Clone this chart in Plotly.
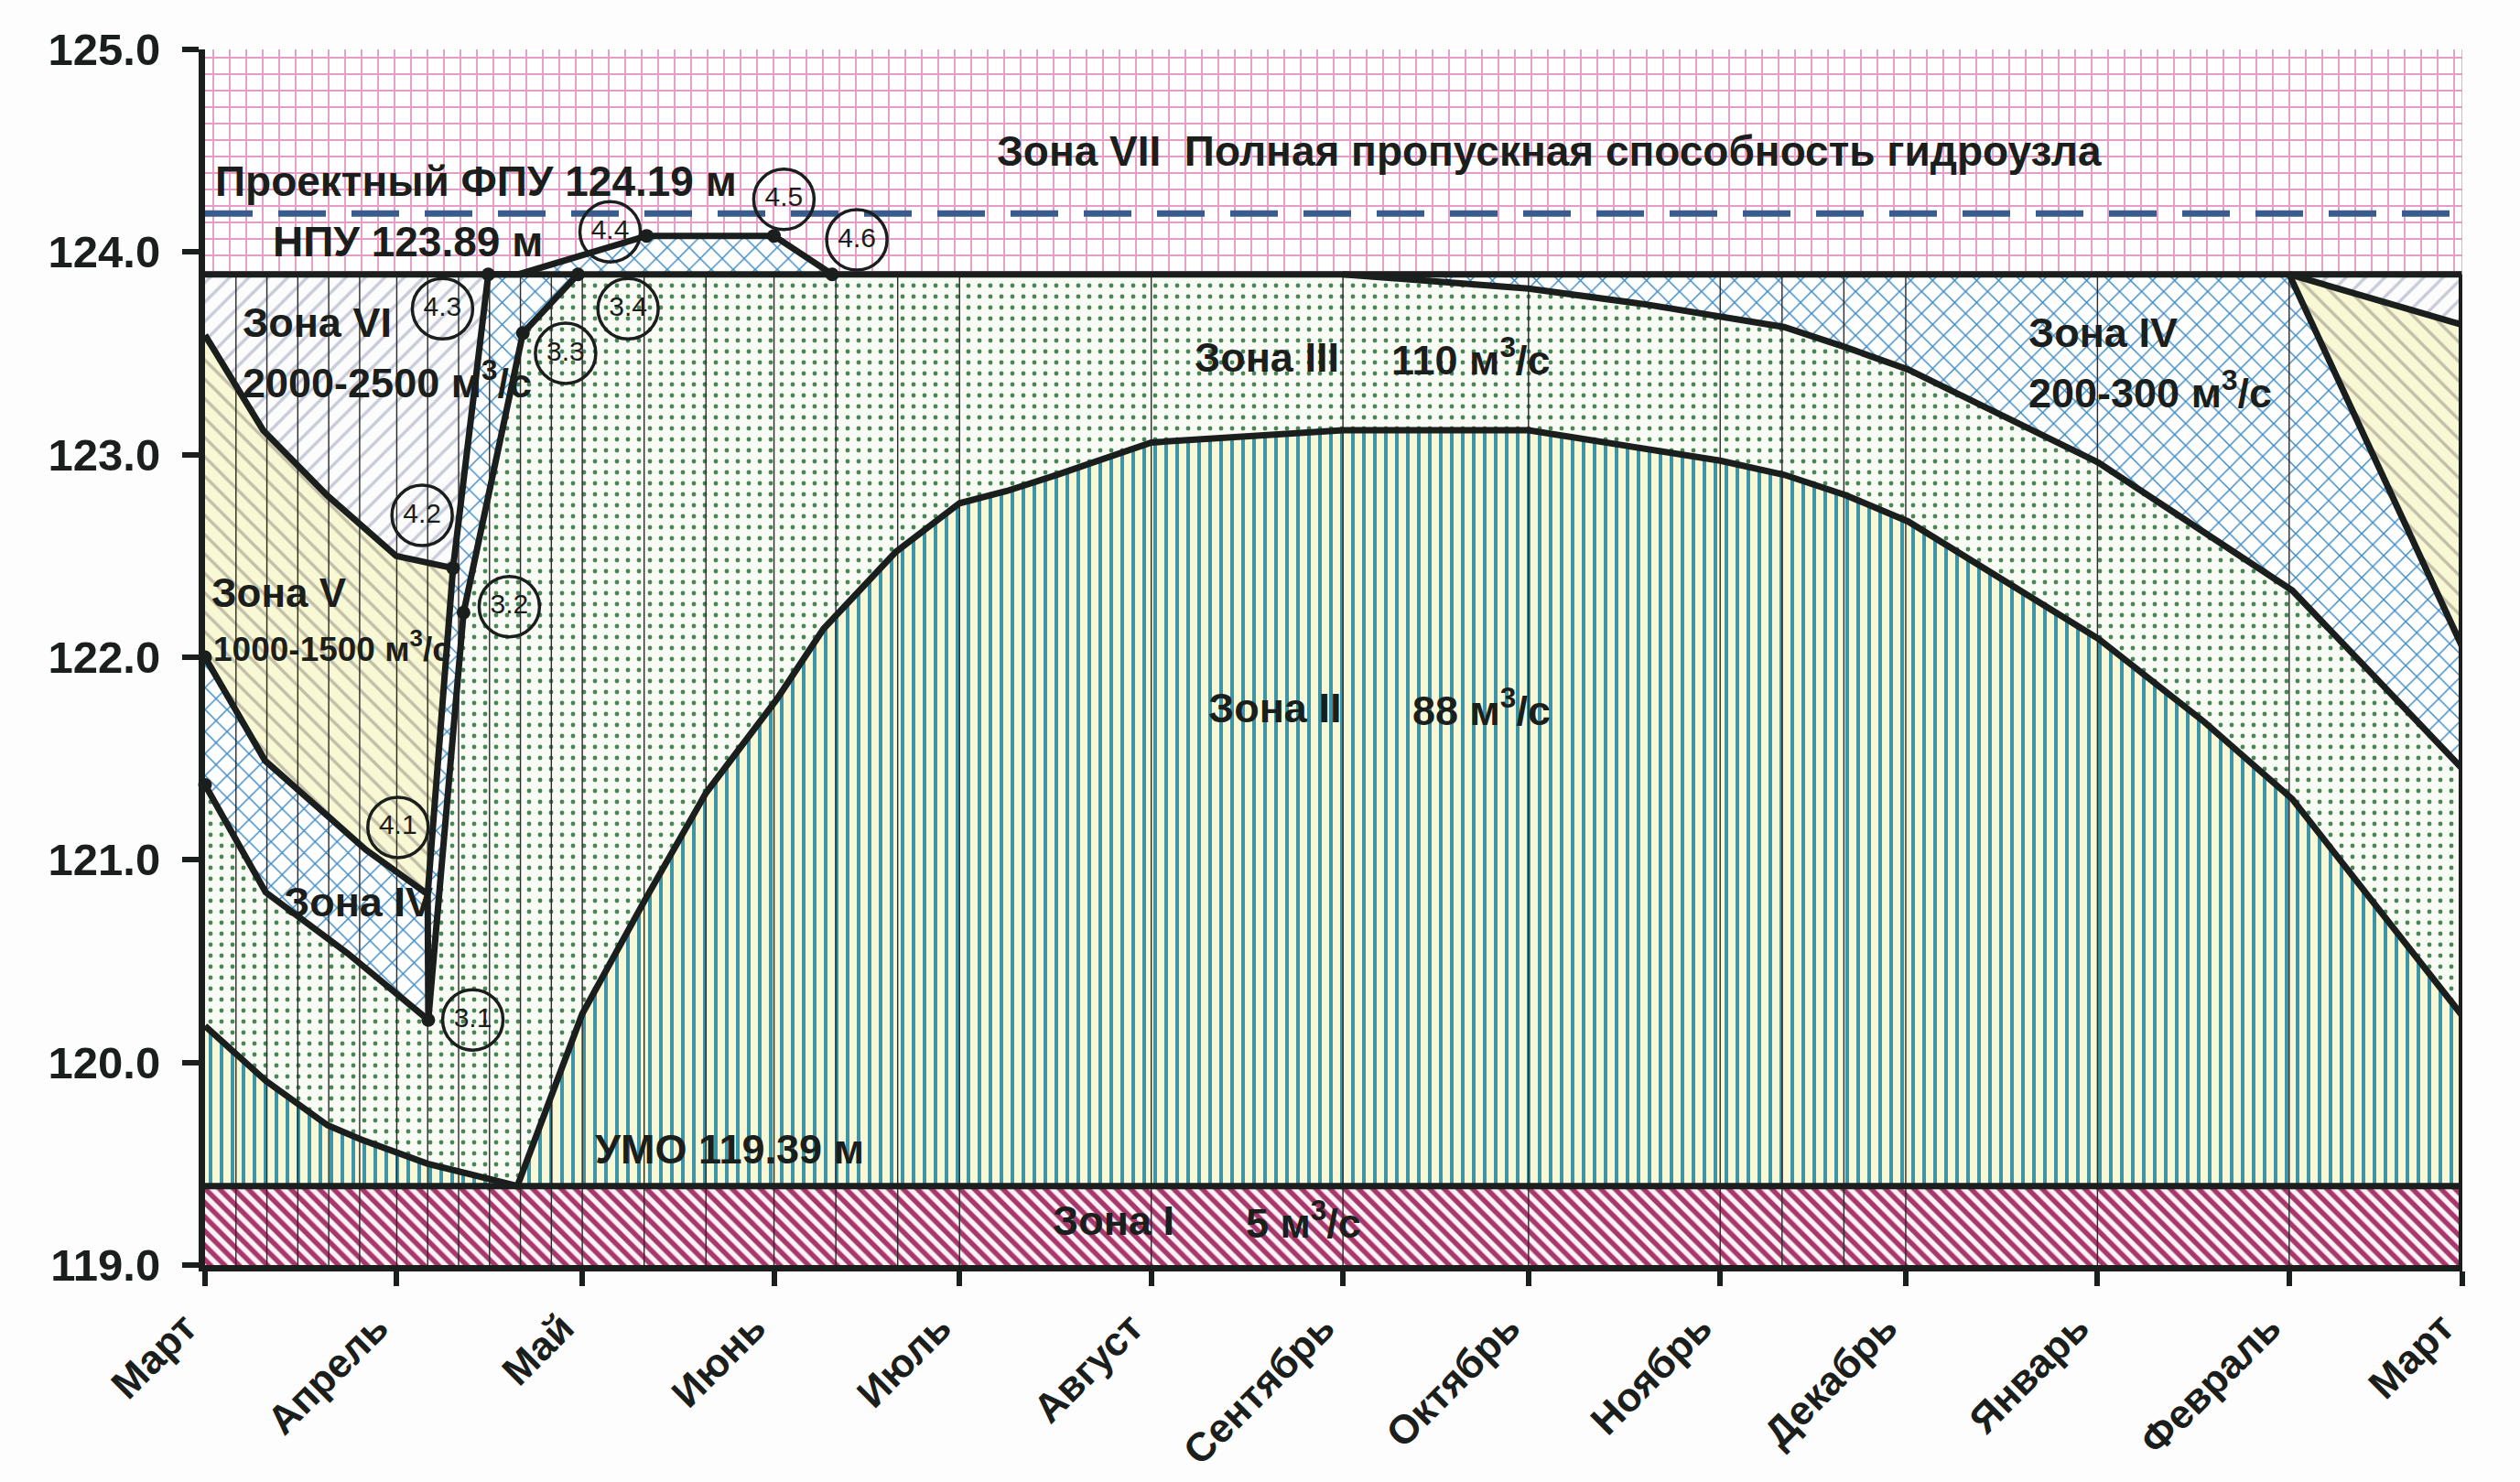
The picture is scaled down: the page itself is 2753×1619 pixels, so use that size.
import plotly.graph_objects as go

# ---------------- data ----------------
MONTH_LABELS = ["Март", "Апрель", "Май", "Июнь", "Июль", "Август", "Сентябрь",
                "Октябрь", "Ноябрь", "Декабрь", "Январь", "Февраль", "Март"]
MONTH_DAYS = [0, 31, 61, 92, 122, 153, 184, 214, 245, 275, 306, 337, 365]
GRID_DAYS = [5, 10, 15, 20, 25, 31, 36, 41, 46, 51, 56, 61, 71, 81, 92, 102, 112,
             122, 153, 184, 214, 245, 255, 265, 275, 306, 337]
Y_TICKS = [119.0, 120.0, 121.0, 122.0, 123.0, 124.0, 125.0]

Y_MIN, Y_MAX = 119.0, 125.0
NPU = 123.89
FPU = 124.19
UMO = 119.39

# Zone II upper boundary
Z2_DAYS = [0, 9.8, 19.8, 25.2, 36, 45.2, 48.5, 50.5, 61, 71.1, 81, 92.4, 100, 111.7,
           122, 129.6, 137.7, 153, 184, 214, 245, 255.4, 265.3, 275.4, 306.2, 323.3,
           337.5, 365]
Z2_LEVELS = [120.18, 119.91, 119.69, 119.62, 119.50, 119.43, 119.40, 119.39, 120.24,
             120.80, 121.33, 121.79, 122.14, 122.52, 122.76, 122.82, 122.90, 123.06,
             123.12, 123.12, 122.97, 122.90, 122.80, 122.67, 122.09, 121.68, 121.30,
             120.23]

# line 3.x (zone III / zone IV boundary in spring)
L3_DAYS = [0, 9.8, 23, 36.1, 41.8, 51.4, 60.3]
L3_LEVELS = [121.37, 120.84, 120.54, 120.21, 122.22, 123.60, 123.89]

# line 4.x (zone IV / zones V, VI, VII boundary in spring)
L4_DAYS = [0, 9.7, 26, 36.0, 40.1, 45.8, 50.7, 71.4, 92, 101.4]
L4_LEVELS = [122.0, 121.49, 121.05, 120.83, 122.44, 123.89, 123.89, 124.08, 124.08, 123.89]

# zone V / zone VI boundary in spring
VIV_DAYS = [0, 9.4, 19.7, 30.9, 40.1]
VIV_LEVELS = [123.59, 123.12, 122.80, 122.50, 122.44]

# zone III / zone IV boundary, autumn-winter
IIIIV_DAYS = [184, 214, 233.3, 245, 255.3, 265.3, 275.4, 306.2, 337.5, 365]
IIIIV_LEVELS = [123.89, 123.82, 123.74, 123.68, 123.63, 123.53, 123.42, 122.96, 122.33, 121.45]

# winter boundaries (from 1 February at NPU)
WIN_IVV_DAYS = [337, 365]
WIN_IVV_LEVELS = [123.89, 122.05]
WIN_VVI_DAYS = [337, 365]
WIN_VVI_LEVELS = [123.89, 123.64]

# numbered circles
CIRCLE_TEXT = ["4.0", "3.0", "4.1", "3.1", "4.2", "3.2", "4.3", "3.3", "3.4", "4.4", "4.5", "4.6"]
CIRCLE_DAYS = [-6.8, -6.8, 31.2, 43.3, 35.1, 49.2, 38.4, 58.3, 68.4, 65.5, 93.6, 105.4]
CIRCLE_LEVELS = [122.25, 121.37, 121.16, 120.21, 122.70, 122.25, 123.72, 123.50, 123.72,
                 124.10, 124.26, 124.06]

# black dots at key points
DOT_DAYS = [0, 0, 36.1, 41.8, 51.4, 60.3, 40.1, 45.8, 71.4, 92, 101.4]
DOT_LEVELS = [122.0, 121.37, 120.21, 122.22, 123.60, 123.89, 122.44, 123.89, 124.08,
              124.08, 123.89]

# ---------------- styling ----------------
FONT = "Liberation Sans, Arial, sans-serif"
INK = "#1a1e1c"
LW = 7

fig = go.Figure()


def zone(xs, ys, shape, fg, bg, size, solidity):
    fig.add_trace(go.Scatter(
        x=xs, y=ys, mode="lines", fill="toself", line=dict(width=0),
        fillcolor=bg,
        fillpattern=dict(shape=shape, fgcolor=fg, bgcolor=bg, size=size,
                         solidity=solidity, fillmode="replace"),
        hoverinfo="skip", showlegend=False))


def line(xs, ys, width=LW, color=INK, dash=None):
    fig.add_trace(go.Scatter(
        x=xs, y=ys, mode="lines",
        line=dict(width=width, color=color, dash=dash),
        hoverinfo="skip", showlegend=False))


END = MONTH_DAYS[-1]
BLUE_FG = "#3a88c2"
V_FG, V_BG = "#c2bea8", "#f8f8d4"
VI_FG, VI_BG = "#c8ccd8", "#fcfcfc"

# Zone III (base, dots)
zone(Z2_DAYS + [END, 0], Z2_LEVELS + [NPU, NPU], ".", "#4a8658", "#f8faf4", 12, 0.13)
# Zone II (vertical stripes)
zone(Z2_DAYS + [END, 0], Z2_LEVELS + [UMO, UMO], "|", "#3c96a8", "#f9f8d6", 12, 0.33)
# Zone I (diagonal stripes)
zone([0, END, END, 0], [Y_MIN, Y_MIN, UMO, UMO], "\\", "#a8386c", "#fdf2f6", 11, 0.5)
# Zone VII (pink bricks)
zone([0, END, END, 0], [NPU, NPU, Y_MAX, Y_MAX], "+", "#e69cc6", "#ffffff", 18, 0.2)
# Zone IV spring
zone(L4_DAYS + L3_DAYS[::-1], L4_LEVELS + L3_LEVELS[::-1], "x", BLUE_FG, "#ffffff", 17, 0.16)
# Zone IV autumn-winter
zone(IIIIV_DAYS + [WIN_IVV_DAYS[1], WIN_IVV_DAYS[0]],
     IIIIV_LEVELS + [WIN_IVV_LEVELS[1], WIN_IVV_LEVELS[0]], "x", BLUE_FG, "#ffffff", 17, 0.16)
# Zone V spring
zone(VIV_DAYS + L4_DAYS[0:4][::-1], VIV_LEVELS + L4_LEVELS[0:4][::-1],
     "\\", V_FG, V_BG, 15, 0.22)
# Zone VI spring
zone([0, L4_DAYS[5]] + VIV_DAYS[::-1], [NPU, L4_LEVELS[5]] + VIV_LEVELS[::-1],
     "/", VI_FG, VI_BG, 15, 0.22)
# Zone V winter
zone([WIN_IVV_DAYS[0], WIN_IVV_DAYS[1], WIN_VVI_DAYS[1]],
     [WIN_IVV_LEVELS[0], WIN_IVV_LEVELS[1], WIN_VVI_LEVELS[1]],
     "\\", V_FG, V_BG, 15, 0.22)
# Zone VI winter
zone([WIN_VVI_DAYS[0], WIN_VVI_DAYS[1], END],
     [WIN_VVI_LEVELS[0], WIN_VVI_LEVELS[1], NPU], "/", VI_FG, VI_BG, 15, 0.22)

# thin vertical grid lines (below NPU)
gx, gy = [], []
for d in GRID_DAYS:
    gx += [d, d, None]
    gy += [Y_MIN, NPU, None]
line(gx, gy, width=1.4, color="#2a2a2a")

# FPU dashed line
line([0, END], [FPU, FPU], width=7, color="#3a5b8e", dash="52px,28px")

# thick boundary lines
line([0, END], [NPU, NPU])
line([0, END], [UMO, UMO])
line(Z2_DAYS, Z2_LEVELS)
line(L3_DAYS, L3_LEVELS)
line(L4_DAYS, L4_LEVELS)
line([L4_DAYS[3], L3_DAYS[3]], [L4_LEVELS[3], L3_LEVELS[3]])
line(VIV_DAYS, VIV_LEVELS)
line(IIIIV_DAYS, IIIIV_LEVELS)
line(WIN_IVV_DAYS, WIN_IVV_LEVELS)
line(WIN_VVI_DAYS, WIN_VVI_LEVELS)
line([END, END], [Y_MIN, NPU], width=8)
line([END, END], [NPU, Y_MAX], width=1.5, color="#b0b0b0")

# key dots
fig.add_trace(go.Scatter(x=DOT_DAYS, y=DOT_LEVELS, mode="markers",
                         marker=dict(size=15, color=INK),
                         cliponaxis=False, hoverinfo="skip", showlegend=False))

# numbered circles
fig.add_trace(go.Scatter(
    x=CIRCLE_DAYS, y=CIRCLE_LEVELS, mode="markers+text", text=CIRCLE_TEXT,
    textposition="middle center",
    textfont=dict(family=FONT, size=30, color=INK),
    marker=dict(symbol="circle-open", size=66, color=INK,
                line=dict(width=3.5, color=INK)),
    cliponaxis=False, hoverinfo="skip", showlegend=False))

# text labels (text, day, level, anchor, size)
LABELS = [
    ("Зона VII  Полная пропускная способность гидроузла", 217.3, 124.50, "center", 46),
    ("Проектный ФПУ 124.19 м", 1.3, 124.35, "left", 46),
    ("НПУ 123.89 м", 10.7, 124.05, "left", 46),
    ("Зона VI", 5.8, 123.65, "left", 45),
    ("2000-2500 м<sup>3</sup>/с", 5.8, 123.37, "left", 45),
    ("Зона V", 0.8, 122.32, "left", 44),
    ("1000-1500 м<sup>3</sup>/с", 1.0, 122.05, "left", 37),
    ("Зона IV", 12.5, 120.79, "left", 45),
    ("Зона III", 159.7, 123.48, "left", 45),
    ("110 м<sup>3</sup>/с", 191.5, 123.48, "left", 45),
    ("Зона IV", 294.5, 123.60, "left", 45),
    ("200-300 м<sup>3</sup>/с", 294.5, 123.32, "left", 45),
    ("Зона II", 161.9, 121.75, "left", 45),
    ("88 м<sup>3</sup>/с", 195.0, 121.75, "left", 45),
    ("УМО 119.39 м", 62.8, 119.57, "left", 45),
    ("Зона I", 136.8, 119.22, "left", 45),
    ("5 м<sup>3</sup>/с", 168.0, 119.22, "left", 45),
]
for text, d, v, anchor, size in LABELS:
    fig.add_annotation(x=d, y=v, text=text, showarrow=False, xanchor=anchor,
                       yanchor="middle",
                       font=dict(family=FONT, size=size, color=INK, weight="bold"))

fig.update_layout(
    width=2753, height=1619,
    margin=dict(l=224, r=63, t=54, b=237, autoexpand=False),
    paper_bgcolor="#fdfdfd", plot_bgcolor="#ffffff",
    font=dict(family=FONT, color=INK),
    showlegend=False,
)
fig.update_xaxes(
    range=[0, END], tickvals=MONTH_DAYS, ticktext=MONTH_LABELS, tickangle=-45,
    tickfont=dict(family=FONT, size=44, weight="bold", color=INK),
    ticks="outside", ticklen=16, tickwidth=6, tickcolor=INK,
    showline=True, linewidth=7, linecolor=INK, showgrid=False, zeroline=False,
    ticklabelstandoff=2, ticklabelshift=-22, automargin=False,
)
fig.update_yaxes(
    range=[Y_MIN, Y_MAX], tickvals=Y_TICKS, tickformat=".1f",
    tickfont=dict(family=FONT, size=49, weight="bold", color=INK),
    ticks="outside", ticklen=18, tickwidth=6, tickcolor=INK,
    showline=True, linewidth=7, linecolor=INK, showgrid=False, zeroline=False,
    ticklabelstandoff=14, automargin=False,
)

fig.write_html("out.html")
